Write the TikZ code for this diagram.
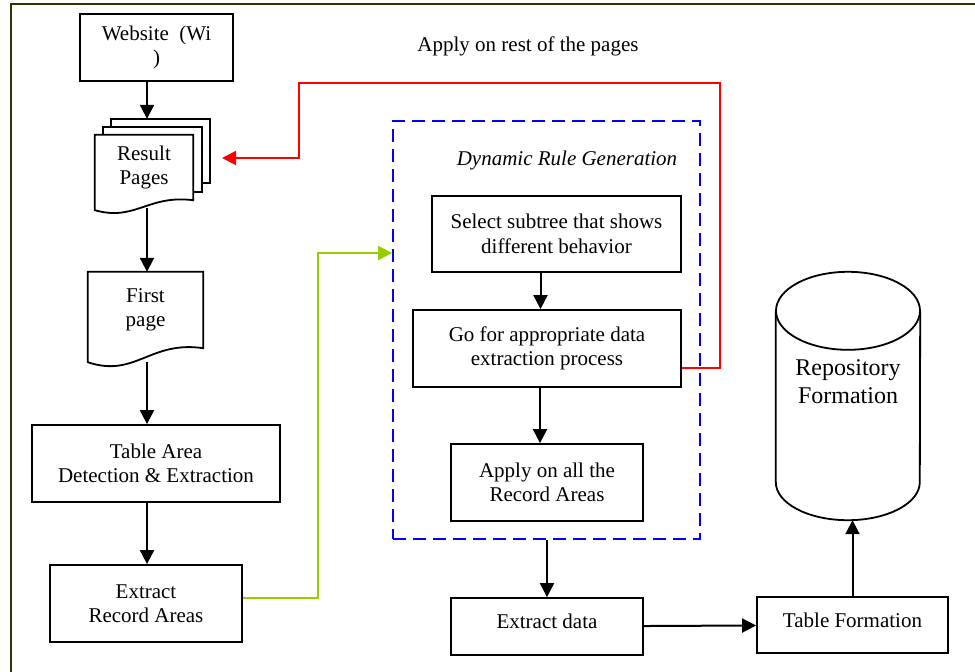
\documentclass[tikz,border=0pt]{standalone}
\usepackage{fontspec}
\setmainfont{Liberation Serif}
\usepackage{tikz}
\usetikzlibrary{positioning,shapes,arrows.meta,backgrounds,calc}
\definecolor{Frame}{rgb}{0.2,0.2,0}
\definecolor{Lime}{rgb}{0.6,0.8,0}
\tikzstyle{pr}=[%
      rectangle, draw=black, line width=1.8pt, fill=white,
      align=center, inner sep=4pt, font=\fontsize{21pt}{24.5pt}\selectfont
]
\tikzstyle{pg}=[%
      rectangle, draw=none, inner sep=4pt,
      align=center, font=\fontsize{21pt}{24.5pt}\selectfont
]
\tikzstyle{pgline}=[%
      draw=black, line width=1.8pt, fill=white
]
\tikzstyle{lb}=[%
      inner sep=0pt, align=center, font=\fontsize{21pt}{24.5pt}\selectfont
]
\tikzstyle{dr}=[%
      rectangle, draw=blue, line width=1.8pt, dash pattern=on 13pt off 7pt
]
\tikzstyle{ar}=[->, line width=2pt]
\tikzstyle{rl}=[->, draw=red, line width=2pt, red]
\tikzstyle{gl}=[->, draw=Lime, line width=2pt, Lime]
% page with a wavy bottom edge
\newcommand{\docpage}[2]{%
  \draw[pgline] (#1.north west) -- (#1.north east) -- (#1.south east)
     .. controls ($(#1.south west)!0.54!(#1.south east)+(0,{-0.57*#2})$)
     and ($(#1.south west)!0.41!(#1.south east)+(0,{2.14*#2})$)
     .. ($(#1.south west)+(0,#2)$) -- cycle;}

\begin{document}
\begin{tikzpicture}[x=1pt, y=-1pt,
    >={Triangle[length=14pt,width=14pt]}
  ]
    \useasboundingbox (0,0) rectangle (975,672);
    \draw[Frame, line width=2pt] (11,672) -- (11,4) -- (975,4);

    % left column
    \node[pr, minimum width=153, minimum height=67] (website) at (156.5,47.5) {Website~~(Wi\\)};
    \node[pg, minimum width=99, minimum height=64] (pages3) at (160.5,151) {};
    \node[pg, minimum width=99, minimum height=65] (pages2) at (152.5,159.5) {};
    \node[pg, minimum width=98, minimum height=65] (result) at (144,167.5) {Result\\Pages};
    \node[pg, minimum width=115, minimum height=76] (first) at (145.5,310) {First\\page};
    \node[pr, minimum width=248, minimum height=77] (table) at (156,463.5) {Table Area\\Detection \& Extraction};
    \node[pr, minimum width=192, minimum height=77] (extract) at (146,603.5) {Extract\\Record Areas};

    \begin{scope}[on background layer]
      \draw[pgline] (pages3.south west) rectangle (pages3.north east);
      \draw[pgline] (pages2.south west) rectangle (pages2.north east);
      \docpage{result}{10}
      \docpage{first}{14}
    \end{scope}

    \coordinate (result-b) at ($(result.south)+(3,8)$);
    \coordinate (first-b) at ($(first.south)+(1.5,14)$);

    % rule generation
    \node[dr, minimum width=307, minimum height=418] (rules) at (546.5,330) {};
    \node[lb, font=\fontsize{21pt}{24.5pt}\selectfont\itshape] (drgtitle) at (567,160) {Dynamic Rule Generation};
    \node[pr, minimum width=249, minimum height=76] (select) at (556.5,234) {Select subtree that shows\\different behavior};
    \node[pr, minimum width=268, minimum height=77] (goproc) at (547,348.5) {Go for appropriate data\\extraction process};
    \node[pr, minimum width=192, minimum height=77] (apply) at (547,482.5) {Apply on all the\\Record Areas};

    \node[lb] (applyrest) at (528,46) {Apply on rest of the pages};

    % output side
    \node[pr, minimum width=192, minimum height=57, text depth=10pt] (exdata) at (547,626.5) {Extract data};
    \node[pr, minimum width=191, minimum height=56, text depth=10pt] (tabform) at (852.5,625) {Table Formation};
    \node[minimum width=144, minimum height=248, inner sep=0pt] (repo) at (848,396) {};
    \draw[line width=1.8pt] ($(repo.north)+(0,39)$) ellipse [x radius=72pt, y radius=39pt];
    \draw[line width=1.8pt] ($(repo.north west)+(0,39)$) -- ($(repo.south west)+(0,-38)$)
        arc[start angle=180, end angle=360, x radius=72pt, y radius=38pt]
        -- ($(repo.north east)+(0,39)$);
    \node[lb, font=\fontsize{24pt}{28pt}\selectfont] (repolbl) at (848,382) {Repository\\Formation};

    % connectors
    \draw[ar] (website.south -| result-b) -- (result-b |- pages3.north);
    \draw[ar] (result-b) -- (result-b |- first.north);
    \draw[ar] (first-b) -- (first-b |- table.north);
    \draw[ar] (table.south -| first-b) -- (first-b |- extract.north);
    \draw[ar] ([xshift=-16pt]select.south) -- ([xshift=-16pt]select.south |- goproc.north);
    \draw[ar] ([xshift=-7pt]goproc.south) -- ([xshift=-7pt]goproc.south |- apply.north);
    \draw[ar] (rules.south -| exdata) -- (exdata);
    \draw[ar] (exdata) -- (tabform);
    \draw[ar] (tabform) -- (tabform |- repo.south);

    \coordinate (gturn) at (318,253);
    \draw[gl] ($(extract.east)+(0,-6)$) -| (gturn) -- (gturn -| rules.west);

    \coordinate (rtop) at (720,83);
    \coordinate (rleft) at (299,83);
    \coordinate (rtarget) at (222,158);
    \draw[rl] ($(goproc.south east)+(0,-20)$) -| (rtop) -- (rleft) |- (rtarget);
  \end{tikzpicture}
\end{document}
